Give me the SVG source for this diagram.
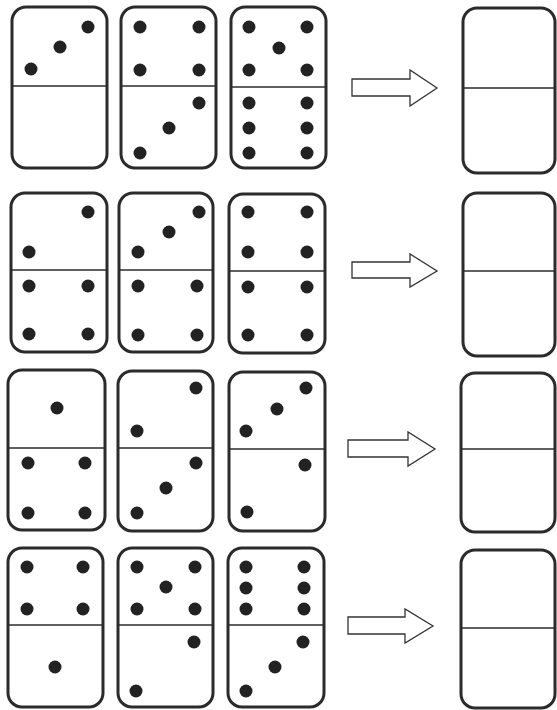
<svg xmlns="http://www.w3.org/2000/svg" width="557" height="710" viewBox="0 0 557 710">
<style>
.tile{fill:#fff;stroke:#2b2b2b;stroke-width:3}
.div{stroke:#2b2b2b;stroke-width:1.6}
.pip{fill:#222}
.arrow{fill:#fff;stroke:#333;stroke-width:1.3;stroke-linejoin:miter}
</style>
<rect width="557" height="710" fill="#fff"/>
<!-- Row 1 -->
<g id="r1d1"><rect class="tile" x="12" y="7" width="95" height="161" rx="14"/><line class="div" x1="12" y1="86" x2="107" y2="86"/>
<circle class="pip" cx="88" cy="27" r="6.5"/><circle class="pip" cx="60" cy="47" r="6.5"/><circle class="pip" cx="31" cy="69" r="6.5"/></g>
<g id="r1d2"><rect class="tile" x="121" y="7" width="95" height="161" rx="14"/><line class="div" x1="121" y1="86" x2="216" y2="86"/>
<circle class="pip" cx="140" cy="27" r="6.5"/><circle class="pip" cx="199" cy="27" r="6.5"/><circle class="pip" cx="140" cy="70" r="6.5"/><circle class="pip" cx="199" cy="70" r="6.5"/>
<circle class="pip" cx="199" cy="103" r="6.5"/><circle class="pip" cx="169" cy="128" r="6.5"/><circle class="pip" cx="140" cy="153" r="6.5"/></g>
<g id="r1d3"><rect class="tile" x="231" y="7" width="95" height="161" rx="14"/><line class="div" x1="231" y1="87" x2="326" y2="87"/>
<circle class="pip" cx="249" cy="27" r="6.5"/><circle class="pip" cx="307" cy="27" r="6.5"/><circle class="pip" cx="279" cy="48" r="6.5"/><circle class="pip" cx="249" cy="70" r="6.5"/><circle class="pip" cx="307" cy="70" r="6.5"/>
<circle class="pip" cx="249" cy="103" r="6.5"/><circle class="pip" cx="307" cy="103" r="6.5"/><circle class="pip" cx="249" cy="128" r="6.5"/><circle class="pip" cx="307" cy="128" r="6.5"/><circle class="pip" cx="249" cy="153" r="6.5"/><circle class="pip" cx="307" cy="153" r="6.5"/></g>
<g id="r1ans"><rect class="tile" x="463" y="8" width="92" height="165" rx="14"/><line class="div" x1="463" y1="88" x2="555" y2="88"/></g>
<!-- Row 2 -->
<g id="r2d1"><rect class="tile" x="11" y="193" width="96" height="159" rx="14"/><line class="div" x1="11" y1="270" x2="107" y2="270"/>
<circle class="pip" cx="88" cy="212" r="6.5"/><circle class="pip" cx="29" cy="252" r="6.5"/>
<circle class="pip" cx="29" cy="286" r="6.5"/><circle class="pip" cx="88" cy="286" r="6.5"/><circle class="pip" cx="29" cy="334" r="6.5"/><circle class="pip" cx="88" cy="334" r="6.5"/></g>
<g id="r2d2"><rect class="tile" x="119" y="193" width="94" height="159" rx="14"/><line class="div" x1="119" y1="270" x2="213" y2="270"/>
<circle class="pip" cx="199" cy="212" r="6.5"/><circle class="pip" cx="169" cy="232" r="6.5"/><circle class="pip" cx="138" cy="252" r="6.5"/>
<circle class="pip" cx="138" cy="286" r="6.5"/><circle class="pip" cx="197" cy="286" r="6.5"/><circle class="pip" cx="138" cy="335" r="6.5"/><circle class="pip" cx="197" cy="335" r="6.5"/></g>
<g id="r2d3"><rect class="tile" x="229" y="194" width="96" height="159" rx="14"/><line class="div" x1="229" y1="271" x2="325" y2="271"/>
<circle class="pip" cx="248" cy="212" r="6.5"/><circle class="pip" cx="307" cy="212" r="6.5"/><circle class="pip" cx="248" cy="252" r="6.5"/><circle class="pip" cx="307" cy="252" r="6.5"/>
<circle class="pip" cx="248" cy="287" r="6.5"/><circle class="pip" cx="307" cy="287" r="6.5"/><circle class="pip" cx="248" cy="335" r="6.5"/><circle class="pip" cx="307" cy="335" r="6.5"/></g>
<g id="r2ans"><rect class="tile" x="463" y="193" width="92" height="163" rx="14"/><line class="div" x1="463" y1="271" x2="555" y2="271"/></g>
<!-- Row 3 -->
<g id="r3d1"><rect class="tile" x="8" y="370" width="97" height="160" rx="14"/><line class="div" x1="8" y1="448" x2="105" y2="448"/>
<circle class="pip" cx="57" cy="408" r="6.5"/>
<circle class="pip" cx="28" cy="463" r="6.5"/><circle class="pip" cx="85" cy="463" r="6.5"/><circle class="pip" cx="28" cy="513" r="6.5"/><circle class="pip" cx="85" cy="513" r="6.5"/></g>
<g id="r3d2"><rect class="tile" x="118" y="371" width="95" height="160" rx="14"/><line class="div" x1="118" y1="448" x2="213" y2="448"/>
<circle class="pip" cx="196" cy="388" r="6.5"/><circle class="pip" cx="137" cy="431" r="6.5"/>
<circle class="pip" cx="196" cy="463" r="6.5" fill="#3a2f38"/><circle class="pip" cx="166" cy="488" r="6.5" fill="#3a2f38"/><circle class="pip" cx="137" cy="513" r="6.5"/></g>
<g id="r3d3"><rect class="tile" x="229" y="372" width="96" height="159" rx="14"/><line class="div" x1="229" y1="449" x2="325" y2="449"/>
<circle class="pip" cx="306" cy="388" r="6.5"/><circle class="pip" cx="277" cy="409" r="6.5"/><circle class="pip" cx="246" cy="431" r="6.5"/>
<circle class="pip" cx="305" cy="465" r="6.5"/><circle class="pip" cx="247" cy="512" r="6.5" fill="#3a2f38"/></g>
<g id="r3ans"><rect class="tile" x="461" y="373" width="94" height="159" rx="14"/><line class="div" x1="461" y1="449" x2="555" y2="449"/></g>
<!-- Row 4 -->
<g id="r4d1"><rect class="tile" x="8" y="548" width="95" height="159" rx="14"/><line class="div" x1="8" y1="625" x2="103" y2="625"/>
<circle class="pip" cx="27" cy="567" r="6.5"/><circle class="pip" cx="83" cy="567" r="6.5"/><circle class="pip" cx="27" cy="609" r="6.5"/><circle class="pip" cx="83" cy="609" r="6.5"/>
<circle class="pip" cx="55" cy="667" r="6.5"/></g>
<g id="r4d2"><rect class="tile" x="118" y="548" width="95" height="159" rx="14"/><line class="div" x1="118" y1="625" x2="213" y2="625"/>
<circle class="pip" cx="137" cy="567" r="6.5"/><circle class="pip" cx="195" cy="567" r="6.5" fill="#3a2f38"/><circle class="pip" cx="166" cy="587" r="6.5"/><circle class="pip" cx="137" cy="609" r="6.5"/><circle class="pip" cx="195" cy="609" r="6.5"/>
<circle class="pip" cx="194" cy="642" r="6.5" fill="#3a2f38"/><circle class="pip" cx="136" cy="691" r="6.5"/></g>
<g id="r4d3"><rect class="tile" x="228" y="548" width="96" height="159" rx="14"/><line class="div" x1="228" y1="625" x2="324" y2="625"/>
<circle class="pip" cx="246" cy="567" r="6.5"/><circle class="pip" cx="304" cy="567" r="6.5"/><circle class="pip" cx="246" cy="588" r="6.5"/><circle class="pip" cx="304" cy="588" r="6.5"/><circle class="pip" cx="246" cy="609" r="6.5"/><circle class="pip" cx="304" cy="609" r="6.5"/>
<circle class="pip" cx="303" cy="642" r="6.5" fill="#333"/><circle class="pip" cx="275" cy="667" r="6.5" fill="#333"/><circle class="pip" cx="246" cy="691" r="6.5" fill="#333"/></g>
<g id="r4ans"><rect class="tile" x="461" y="550" width="94" height="158" rx="14"/><line class="div" x1="461" y1="628" x2="555" y2="628"/></g>
<!-- Connectors -->
<g id="connectors">
<polygon class="arrow" points="352,79 410,79 410,70 437,88 410,106 410,96 352,96"/>
<polygon class="arrow" points="352,262 410,262 410,254 437,271 410,287 410,278 352,278"/>
<polygon class="arrow" points="348,440 408,440 408,432 435,449 408,466 408,457 348,457"/>
<polygon class="arrow" points="348,617 405,617 405,609 433,626 405,643 405,634 348,634"/>
</g>
</svg>
